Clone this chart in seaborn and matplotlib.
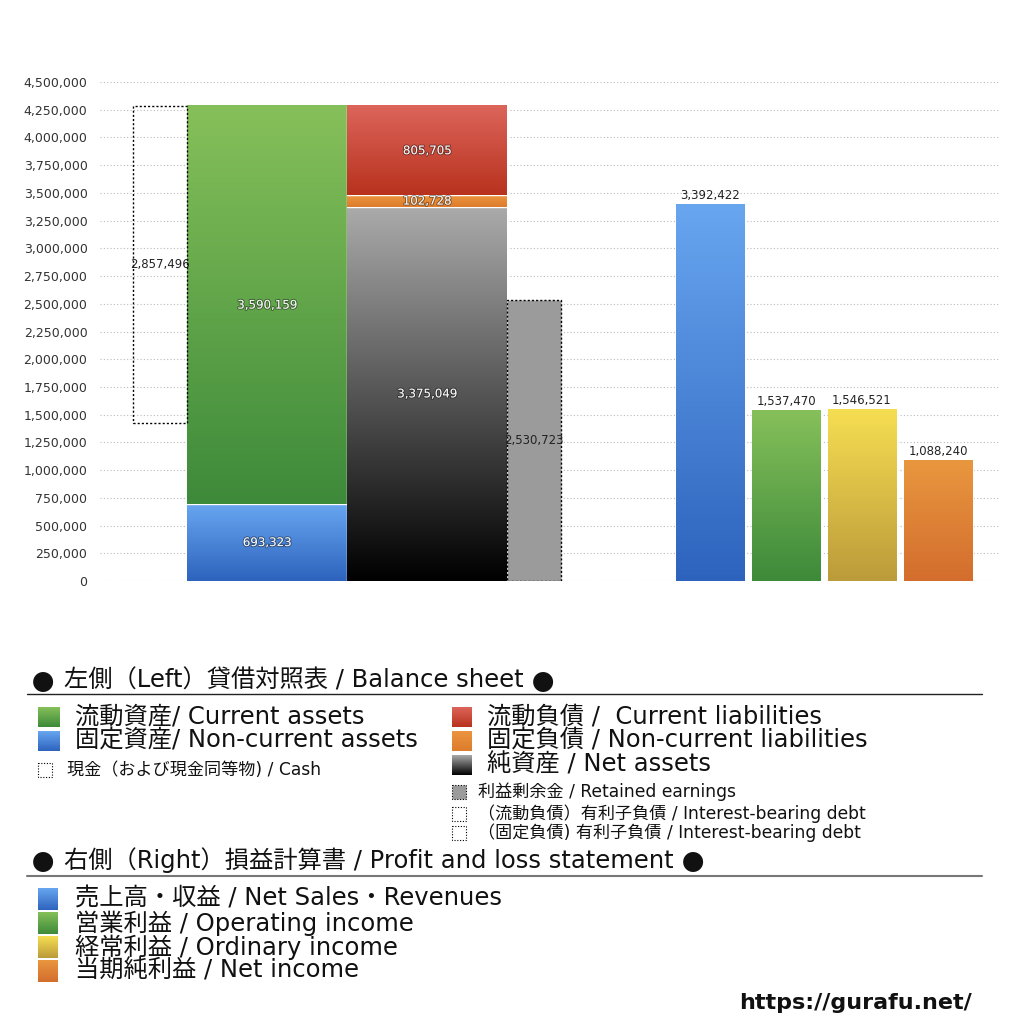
import numpy as np
import matplotlib
matplotlib.use("Agg")
import matplotlib.pyplot as plt
import seaborn as sns
from matplotlib.colors import LinearSegmentedColormap
from matplotlib.ticker import MultipleLocator, FuncFormatter
import matplotlib.patheffects as pe
from matplotlib.patches import Rectangle

# データ（貸借対照表）
current_assets = 3590159
noncurrent_assets = 693323
cash = 2857496
current_liab = 805705
noncurrent_liab = 102728
net_assets = 3375049
retained = 2530723

# データ（損益計算書）
pl_labels = ["売上高", "営業利益", "経常利益", "当期純利益"]
pl_values = [3392422, 1537470, 1546521, 1088240]

# 色（上, 下）
c_green = ("#86c05a", "#3d8a3a")
c_blue = ("#68a6f0", "#2d63bd")
c_red = ("#dc655a", "#b8321e")
c_orange = ("#eb9540", "#dd7c2c")
c_black = ("#ababab", "#000000")
c_yellow = ("#f6de52", "#bb9b3a")
c_orange2 = ("#e9973f", "#d36d2d")
pl_colors = [c_blue, c_green, c_yellow, c_orange2]

sns.set_theme(style="white")
plt.rcParams["font.family"] = ["DejaVu Sans", "Noto Sans CJK JP"]

fig = plt.figure(figsize=(10.24, 10.24), dpi=100)
ax = fig.add_axes([100 / 1024, (1024 - 581) / 1024, 900 / 1024, 499 / 1024])


def grad(ax, x0, y0, w, h, cols, z=2):
    cmap = LinearSegmentedColormap.from_list("g", [cols[1], cols[0]])
    arr = np.linspace(1, 0, 256).reshape(-1, 1)
    ax.imshow(arr, cmap=cmap, vmin=0, vmax=1, extent=(x0, x0 + w, y0, y0 + h),
              origin="upper", aspect="auto", zorder=z, interpolation="bicubic")


def grad_bar(ax, bar, cols):
    grad(ax, bar.get_x(), bar.get_y(), bar.get_width(), bar.get_height(), cols)


shadow = [pe.withStroke(linewidth=1.4, foreground=(0, 0, 0, 0.4))]


def inner_label(x, y, v):
    ax.text(x, y, f"{v:,}", ha="center", va="center", fontsize=8.5,
            color="#f6f6f6", path_effects=shadow, zorder=5)


total_assets = current_assets + noncurrent_assets

# 現金（点線）
ax.bar(60, cash, bottom=total_assets - cash, width=54, fill=False,
       edgecolor="black", linestyle=(0, (1.5, 1.5)), linewidth=1, zorder=3)
ax.text(60, total_assets - cash / 2, f"{cash:,}", ha="center", va="center",
        fontsize=8.5, color="#222", zorder=5)

# 資産
b = ax.bar(167, noncurrent_assets, width=160, zorder=2)[0]
grad_bar(ax, b, c_blue)
inner_label(167, noncurrent_assets / 2, noncurrent_assets)
b = ax.bar(167, current_assets, bottom=noncurrent_assets, width=160, zorder=2)[0]
grad_bar(ax, b, c_green)
inner_label(167, noncurrent_assets + current_assets / 2, current_assets)

# 負債・純資産
b = ax.bar(327, net_assets, width=160, zorder=2)[0]
grad_bar(ax, b, c_black)
inner_label(327, net_assets / 2, net_assets)
b = ax.bar(327, noncurrent_liab, bottom=net_assets, width=160, zorder=2)[0]
grad_bar(ax, b, c_orange)
inner_label(327, net_assets + noncurrent_liab / 2, noncurrent_liab)
b = ax.bar(327, current_liab, bottom=net_assets + noncurrent_liab, width=160, zorder=2)[0]
grad_bar(ax, b, c_red)
inner_label(327, net_assets + noncurrent_liab + current_liab / 2, current_liab)

# 利益剰余金
ax.bar(434, retained, width=54, color="#9b9b9b", edgecolor="black",
       linestyle=(0, (1.5, 1.5)), linewidth=1, zorder=3)
ax.text(434, retained / 2, f"{retained:,}", ha="center", va="center",
        fontsize=8.5, color="#222", zorder=5)

# 損益計算書
pl_pos = [610 + 76 * i for i in range(len(pl_values))]
n0 = len(ax.patches)
sns.barplot(x=pl_pos, y=pl_values, native_scale=True, width=69 / 76,
            color="#888888", errorbar=None, ax=ax, zorder=2)
for bar, cols, v in zip(ax.patches[n0:], pl_colors, pl_values):
    grad_bar(ax, bar, cols)
    ax.text(bar.get_x() + bar.get_width() / 2, v + 25000, f"{v:,}",
            ha="center", va="bottom", fontsize=8.5, color="#222", zorder=5)

ax.set_xlim(0, 900)
ax.set_ylim(0, 4500000)
ax.set_xticks([])
ax.set_xlabel("")
ax.yaxis.set_major_locator(MultipleLocator(250000))
ax.yaxis.set_major_formatter(FuncFormatter(lambda v, p: f"{v:,.0f}"))
ax.tick_params(axis="y", length=0, pad=9, labelsize=9, labelcolor="#333")
ax.grid(axis="y", color="#bbbbbb", linestyle=(0, (1, 2)), linewidth=0.8, zorder=0)
ax.set_axisbelow(True)
for s in ax.spines.values():
    s.set_visible(False)

# 凡例（ピクセル座標）
lax = fig.add_axes([0, 0, 1, 1])
lax.set_xlim(0, 1024)
lax.set_ylim(1024, 0)
lax.axis("off")
lax.patch.set_alpha(0)
renderer = fig.canvas.get_renderer()

big = 17.5
small = 12.3


def sq(x, y, w, h, cols):
    grad(lax, x, y + h, w, -h, cols)


def dotted_sq(x, y, w, h, fc="none"):
    lax.add_patch(Rectangle((x, y), w, h, facecolor=fc, edgecolor="black",
                            linestyle=(0, (1, 1.5)), linewidth=0.8))


def header(y, body):
    lax.text(32, y + 3, "●", fontsize=16, va="center", color="#111",
             family=["Noto Sans CJK JP"])
    t = lax.text(64, y, body, fontsize=big, va="center", color="#111")
    bb = t.get_window_extent(renderer)
    lax.text(bb.x1 + 8, y + 3, "●", fontsize=16, va="center", color="#111",
             family=["Noto Sans CJK JP"])


header(680, "左側（Left）貸借対照表 / Balance sheet")
lax.plot([27, 982], [694, 694], color="#222", lw=1)

left_items = [("流動資産/ Current assets", c_green), ("固定資産/ Non-current assets", c_blue)]
for i, (t, cols) in enumerate(left_items):
    y = 717 + 24 * i
    sq(38, y - 10, 22, 20, cols)
    lax.text(75, y, t, fontsize=big, va="center", color="#111")
dotted_sq(38, 763, 14, 14)
lax.text(67, 770, "現金（および現金同等物) / Cash", fontsize=small, va="center", color="#111")

right_items = [("流動負債 /  Current liabilities", c_red),
               ("固定負債 / Non-current liabilities", c_orange),
               ("純資産 / Net assets", c_black)]
for i, (t, cols) in enumerate(right_items):
    y = 717 + 24 * i
    sq(452, y - 10, 20, 20, cols)
    lax.text(487, y, t, fontsize=big, va="center", color="#111")
small_items = ["利益剰余金 / Retained earnings",
               "（流動負債）有利子負債 / Interest-bearing debt",
               "（固定負債) 有利子負債 / Interest-bearing debt"]
for i, (t, y) in enumerate(zip(small_items, [792, 814, 833])):
    dotted_sq(452, y - 7, 14, 14, "#9b9b9b" if i == 0 else "none")
    lax.text(478, y, t, fontsize=small, va="center", color="#111")

header(860, "右側（Right）損益計算書 / Profit and loss statement")
lax.plot([27, 982], [876, 876], color="#777", lw=1.5)

pl_legend = ["売上高・収益 / Net Sales・Revenues", "営業利益 / Operating income",
             "経常利益 / Ordinary income", "当期純利益 / Net income"]
for i, (t, cols) in enumerate(zip(pl_legend, pl_colors)):
    y = 899 + 24 * i
    sq(38, y - 11, 20, 22, cols)
    lax.text(75, y, t, fontsize=big, va="center", color="#111")

lax.text(972, 1003, "https://gurafu.net/", fontsize=16, fontweight="bold",
         ha="right", va="center", color="#111", family=["DejaVu Sans"])

fig.savefig("out.png", dpi=100)
